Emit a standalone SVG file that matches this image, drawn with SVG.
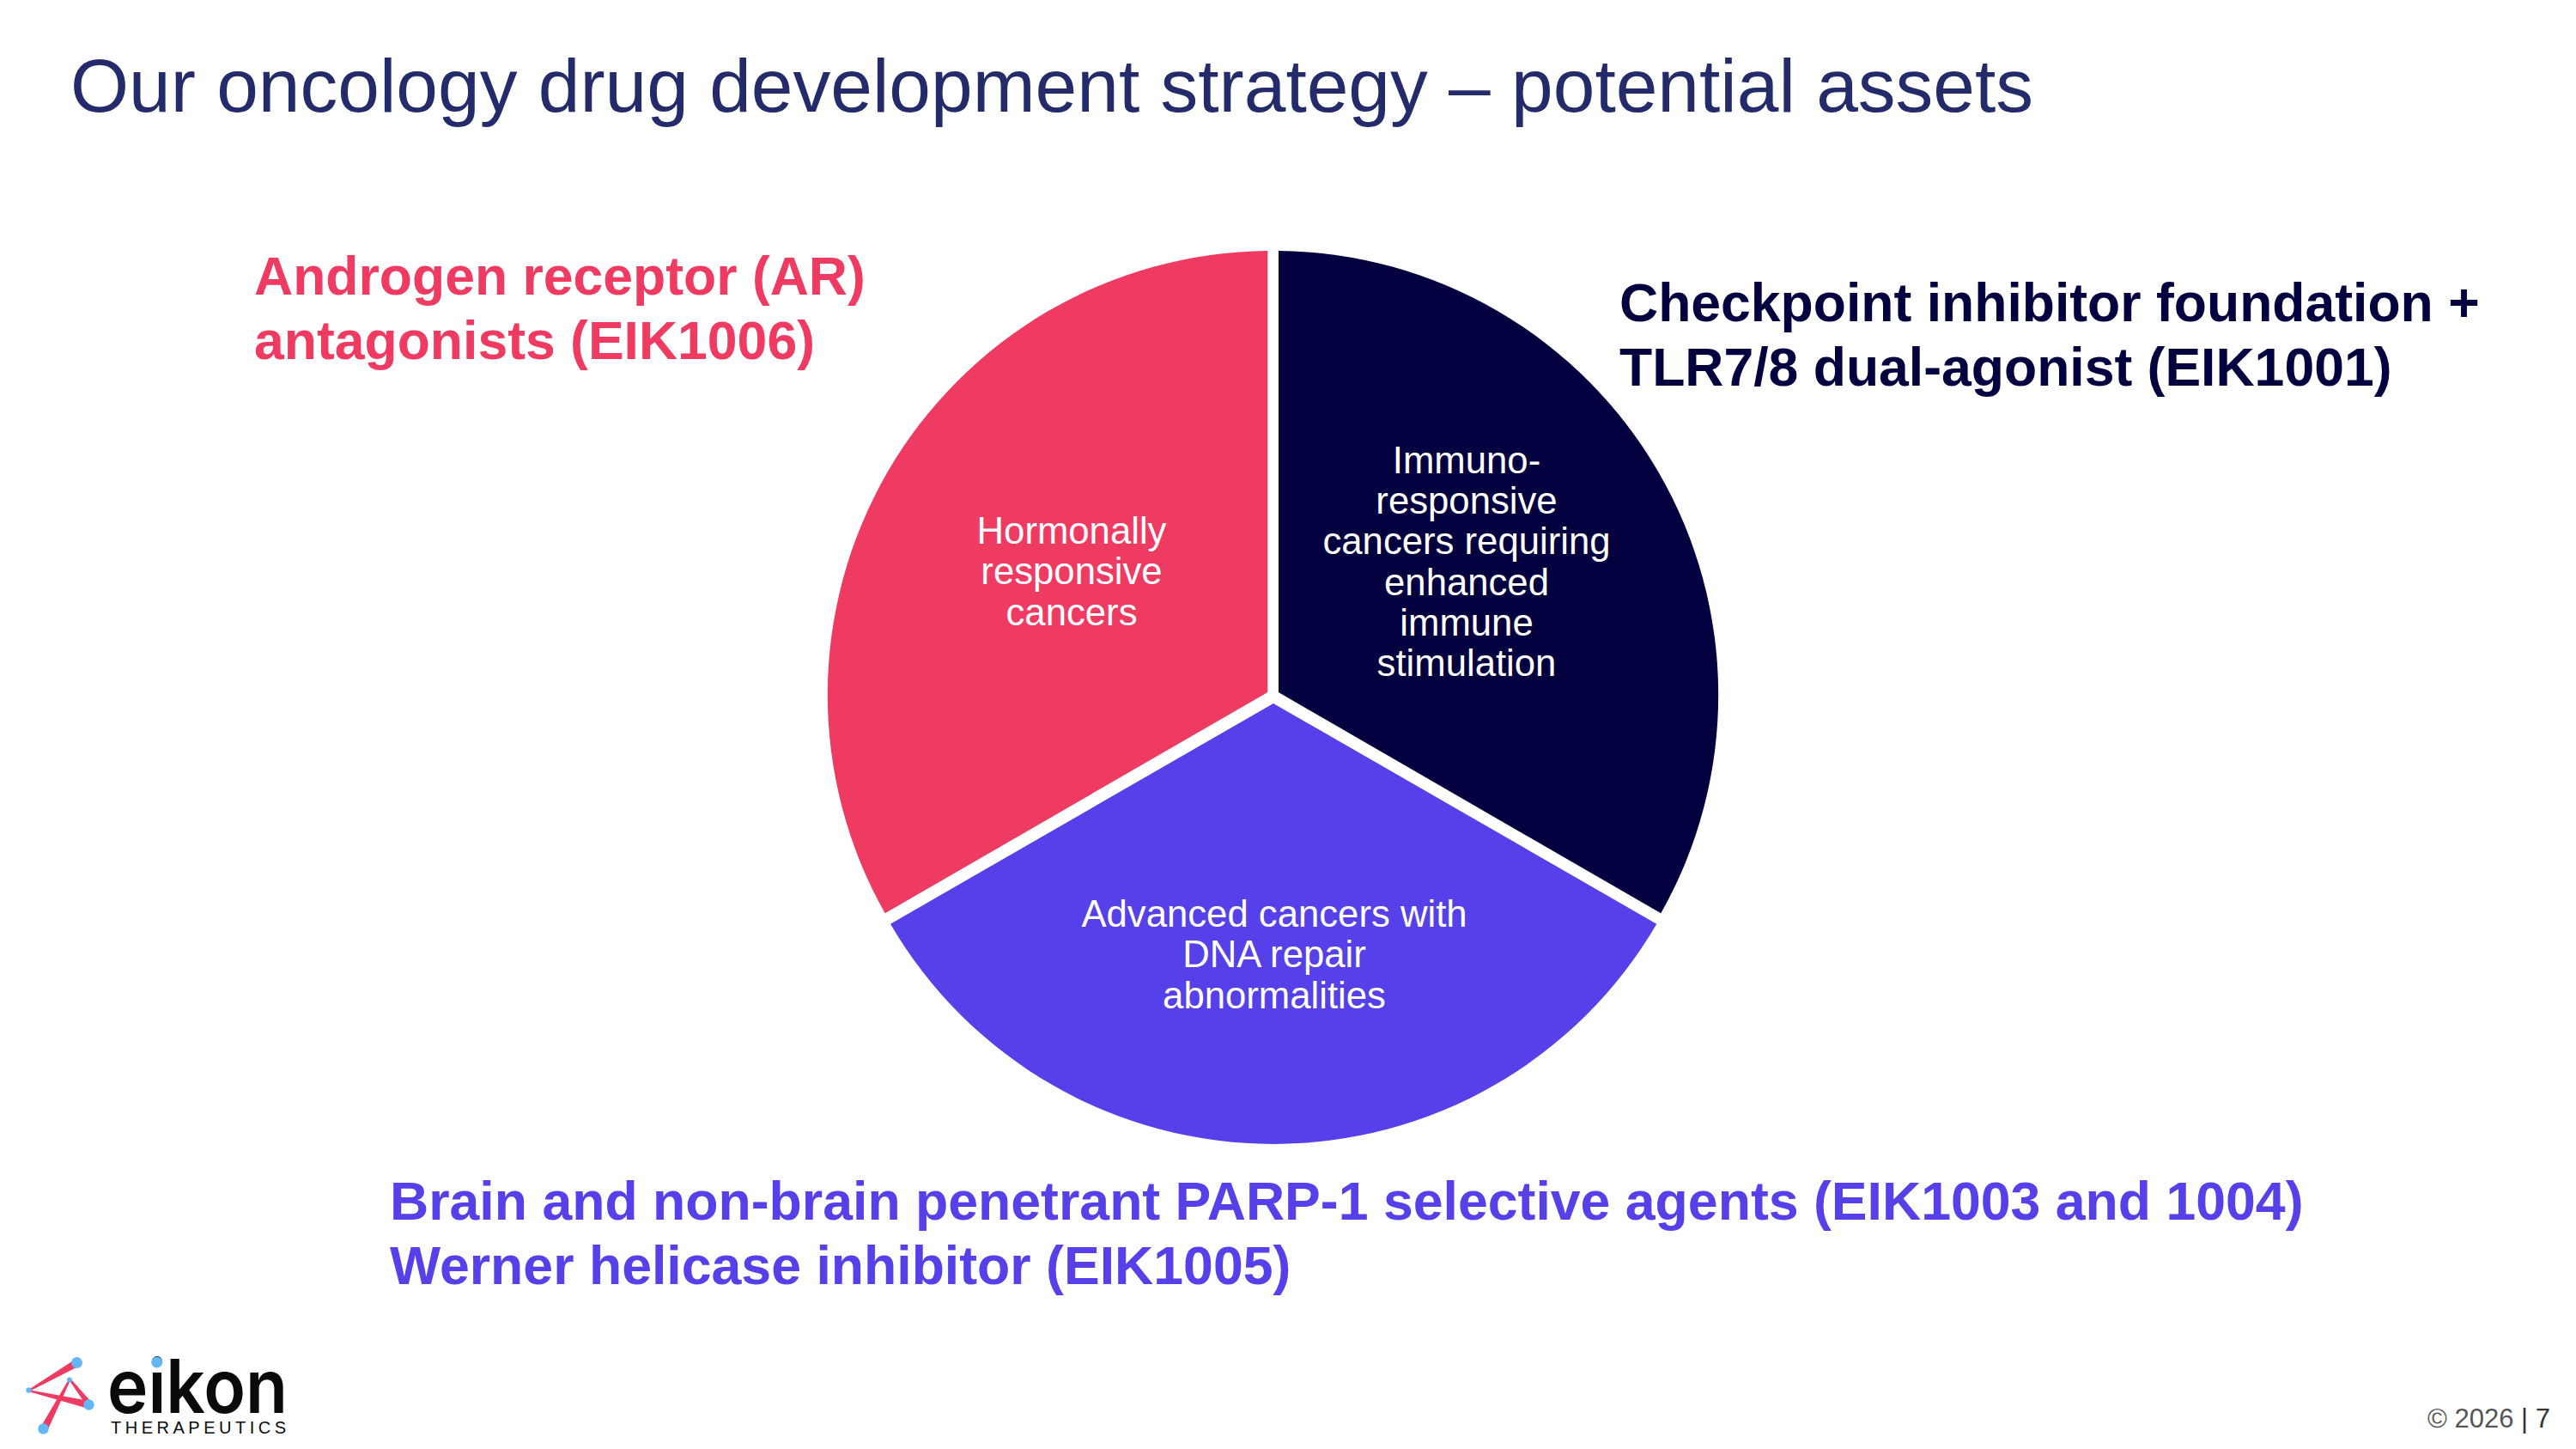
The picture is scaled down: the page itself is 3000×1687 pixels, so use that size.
<svg xmlns="http://www.w3.org/2000/svg" width="3000" height="1687" viewBox="0 0 3000 1687">
<style>
text{font-family:"Liberation Sans",Arial,sans-serif}
.lbl{font-size:62.500px;font-weight:700}
.lbl2{font-size:62.600px;font-weight:700}
.in{font-size:43.700px;fill:#fff;text-anchor:middle}
.dot{fill:#63b7f7}
.lk{fill:#ee3b63}
</style>
<rect width="3000" height="1687" fill="#fff"/>
<text id="title" x="82" y="130" font-size="87.500" fill="#232b6b">Our oncology drug development strategy – potential assets</text>
<g id="node-ar">
<path d="M1476.300 292A517 517 0 0 0 1030.700 1063.300L1476.300 806Z" fill="#ef3b62"/>
<text class="in" x="1248" y="633">Hormonally</text><text class="in" x="1248" y="680">responsive</text><text class="in" x="1248" y="728">cancers</text>
<text class="lbl" x="296" y="342.500" fill="#ef3b62">Androgen receptor (AR)</text><text class="lbl" x="296" y="417.500" fill="#ef3b62">antagonists (EIK1006)</text>
</g>
<g id="node-checkpoint">
<path d="M1489 292A517 517 0 0 1 1934.300 1063.300L1489 806Z" fill="#03003f"/>
<text class="in" x="1708" y="551">Immuno-</text><text class="in" x="1708" y="598">responsive</text><text class="in" x="1708" y="645">cancers requiring</text><text class="in" x="1708" y="693">enhanced</text><text class="in" x="1708" y="740">immune</text><text class="in" x="1708" y="787">stimulation</text>
<text class="lbl" x="1886" y="373.500" fill="#03003f">Checkpoint inhibitor foundation +</text><text class="lbl" x="1886" y="448.500" fill="#03003f">TLR7/8 dual-agonist (EIK1001)</text>
</g>
<g id="node-dna">
<path d="M1483 819L1929.300 1075.700A516.500 516.500 0 0 1 1037 1075.700Z" fill="#5540ea"/>
<text class="in" x="1484" y="1079">Advanced cancers with</text><text class="in" x="1484" y="1126">DNA repair</text><text class="in" x="1484" y="1174">abnormalities</text>
<text class="lbl2" x="454" y="1420" fill="#5540ea">Brain and non-brain penetrant PARP-1 selective agents (EIK1003 and 1004)</text><text class="lbl2" x="454" y="1495" fill="#5540ea">Werner helicase inhibitor (EIK1005)</text>
</g>
<g id="logo">
<polygon class="lk" points="33,1618 87,1583 91,1591 34,1620"/>
<polygon class="lk" points="33,1618 104,1631 103,1640 33,1620"/>
<polygon class="lk" points="80,1606 82,1607 55,1666 47,1662"/>
<polygon class="lk" points="80,1606 83,1606 107,1633 101,1637"/>
<circle class="dot" cx="89.500" cy="1586.500" r="6.500"/><circle class="dot" cx="33.500" cy="1618.500" r="3.200"/><circle class="dot" cx="81" cy="1606.500" r="3"/><circle class="dot" cx="103.500" cy="1635.500" r="6.200"/><circle class="dot" cx="50.500" cy="1663.500" r="6.200"/>
<text x="125" y="1645" font-size="86" font-weight="600" style="font-family:Inter,sans-serif" textLength="210" lengthAdjust="spacingAndGlyphs" fill="#0a0a0a">eikon</text>
<circle class="dot" cx="182.700" cy="1586" r="6.500"/>
<text x="129" y="1669" font-size="20" textLength="204" fill="#0a0a0a">THERAPEUTICS</text>
</g>
<text id="footer" x="2827" y="1662" font-size="31" fill="#555">© 2026 <tspan fill="#333">| 7</tspan></text>
</svg>
